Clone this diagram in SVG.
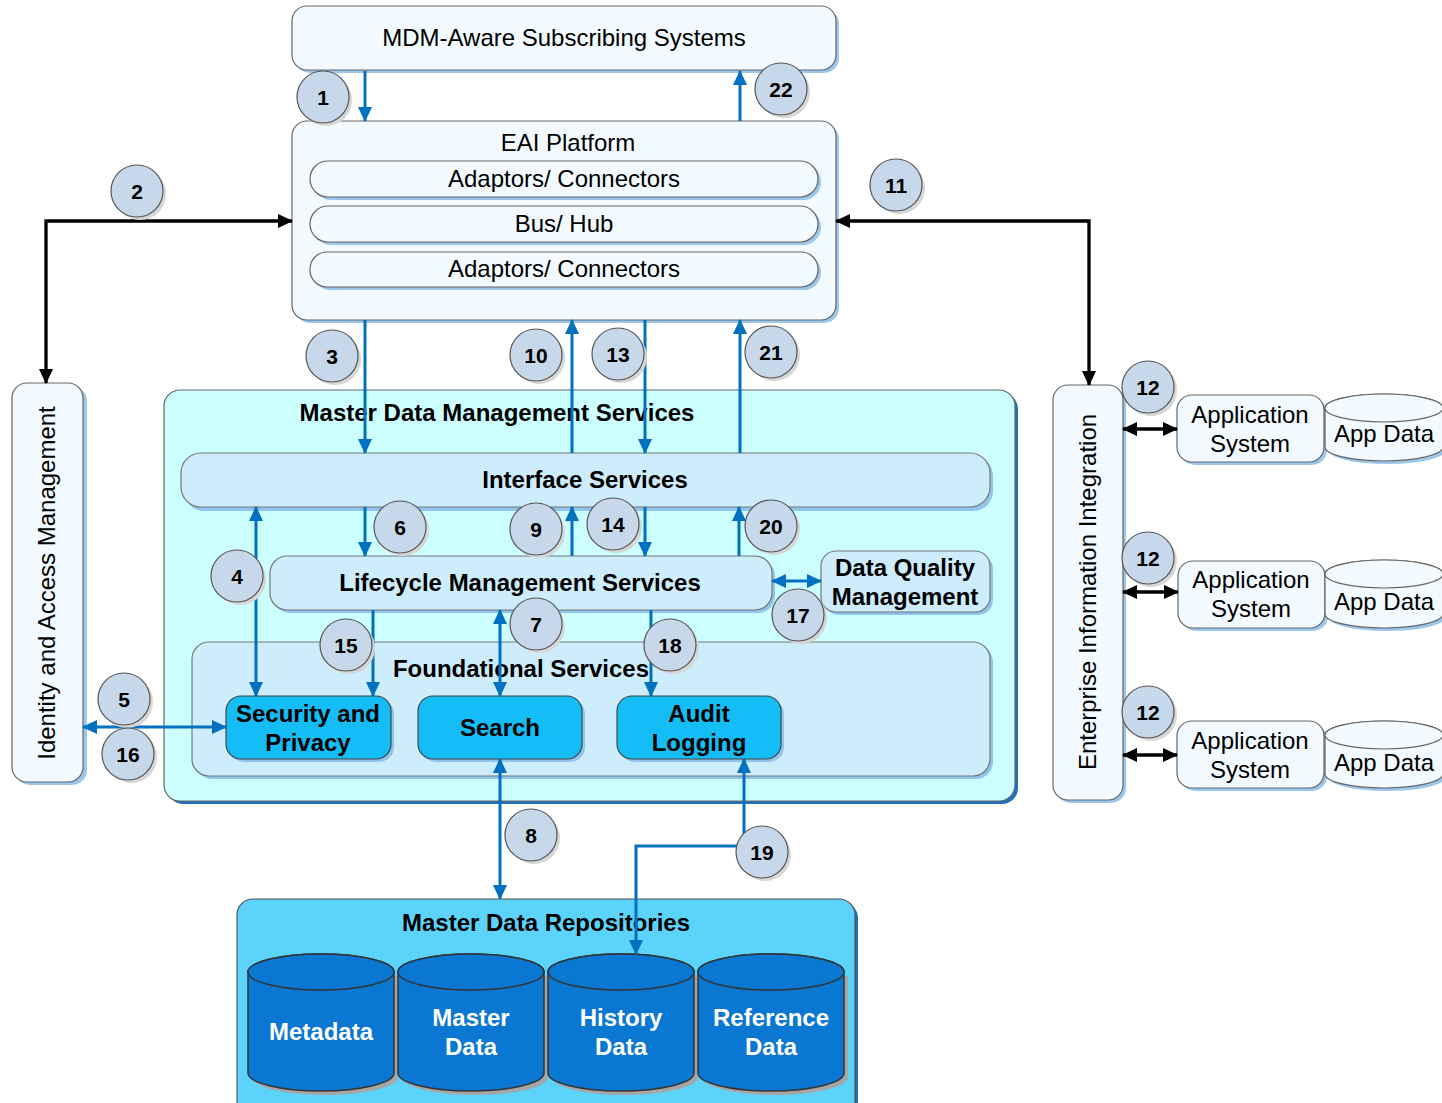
<svg xmlns="http://www.w3.org/2000/svg" width="1442" height="1103" viewBox="0 0 1442 1103">
<defs>
<marker id="ab" viewBox="0 0 15 14" refX="14" refY="7" markerWidth="15" markerHeight="14" markerUnits="userSpaceOnUse" orient="auto-start-reverse"><path d="M0,0 L15,7 L0,14 z" fill="#0070c0"/></marker>
<marker id="ak" viewBox="0 0 15 14" refX="14" refY="7" markerWidth="15" markerHeight="14" markerUnits="userSpaceOnUse" orient="auto-start-reverse"><path d="M0,0 L15,7 L0,14 z" fill="#000"/></marker>
</defs>
<style>
text{font-family:"Liberation Sans",Arial,sans-serif;font-size:24px;text-anchor:middle;dominant-baseline:central;fill:#000}
.b{font-weight:bold}
.w{fill:#fff}
.n{font-size:21px;font-weight:bold}
.light{fill:#f3faff;stroke:#666;stroke-width:1.2}
.lsh{fill:#9cc6ea}
.mdm{fill:#ccffff;stroke:#666;stroke-width:1.2}
.dsh{fill:#1f70b8}
.mid{fill:#cdedfc;stroke:#777;stroke-width:1.2}
.msh{fill:#90c4ea}
.fs{fill:#14bdf6;stroke:#444;stroke-width:1.2}
.repo{fill:#5bd3fb;stroke:#555;stroke-width:1.2}
.cyl{fill:#0a78d2;stroke:#333;stroke-width:1.5}
.csh{fill:#a6a6a6}
.bl{stroke:#0070c0;stroke-width:3;fill:none}
.bk{stroke:#000;stroke-width:3.3;fill:none}
.bdg{fill:#c6d8ea;stroke:#555;stroke-width:1.2}
.bsh{fill:#d6d6d6}
</style>

<g id="mdm-aware">
<rect class="lsh" x="295" y="9" width="544" height="64" rx="15"/>
<rect class="light" x="292" y="6" width="544" height="64" rx="15"/>
<text x="564" y="37">MDM-Aware Subscribing Systems</text>
</g>

<g id="eai-platform">
<rect class="lsh" x="295" y="124" width="544" height="199" rx="15"/>
<rect class="light" x="292" y="121" width="544" height="199" rx="15"/>
<text x="568" y="142">EAI Platform</text>
<rect class="lsh" x="313" y="164" width="508" height="36" rx="18"/>
<rect class="light" x="310" y="161" width="508" height="36" rx="18"/>
<text x="564" y="178">Adaptors/ Connectors</text>
<rect class="lsh" x="313" y="209" width="508" height="36" rx="18"/>
<rect class="light" x="310" y="206" width="508" height="36" rx="18"/>
<text x="564" y="223">Bus/ Hub</text>
<rect class="lsh" x="313" y="255" width="508" height="35" rx="17"/>
<rect class="light" x="310" y="252" width="508" height="35" rx="17"/>
<text x="564" y="268">Adaptors/ Connectors</text>
</g>

<g id="iam">
<rect class="lsh" x="15" y="386" width="72" height="399" rx="15"/>
<rect class="light" x="12" y="383" width="71" height="399" rx="15"/>
<text transform="translate(46,583) rotate(-90)">Identity and Access Management</text>
</g>

<g id="mdm-services">
<rect class="dsh" x="167" y="393" width="851" height="411" rx="16"/>
<rect class="mdm" x="164" y="390" width="851" height="411" rx="16"/>
<text class="b" x="497" y="412">Master Data Management Services</text>
</g>

<g id="interface-services">
<rect class="msh" x="184" y="456" width="809" height="55" rx="20"/>
<rect class="mid" x="181" y="453" width="809" height="54" rx="20"/>
<text class="b" x="585" y="479">Interface Services</text>
</g>

<g id="lifecycle-services">
<rect class="msh" x="273" y="559" width="502" height="54" rx="17"/>
<rect class="mid" x="270" y="556" width="502" height="54" rx="17"/>
<text class="b" x="520" y="582">Lifecycle Management Services</text>
</g>

<g id="data-quality">
<rect class="msh" x="824" y="554" width="169" height="61" rx="15"/>
<rect class="mid" x="821" y="551" width="169" height="61" rx="15"/>
<text class="b" x="905" y="567">Data Quality</text>
<text class="b" x="905" y="596">Management</text>
</g>

<g id="foundational-services">
<rect class="msh" x="195" y="645" width="798" height="134" rx="17"/>
<rect class="mid" x="192" y="642" width="798" height="134" rx="17"/>
<text class="b" x="521" y="668">Foundational Services</text>
</g>

<g id="security-privacy">
<rect class="msh" x="229" y="699" width="165" height="63" rx="15"/>
<rect class="fs" x="226" y="696" width="165" height="63" rx="15"/>
<text class="b" x="308" y="713">Security and</text>
<text class="b" x="308" y="742">Privacy</text>
</g>

<g id="search">
<rect class="msh" x="421" y="699" width="164" height="63" rx="15"/>
<rect class="fs" x="418" y="696" width="164" height="63" rx="15"/>
<text class="b" x="500" y="727">Search</text>
</g>

<g id="audit-logging">
<rect class="msh" x="620" y="699" width="164" height="63" rx="15"/>
<rect class="fs" x="617" y="696" width="164" height="63" rx="15"/>
<text class="b" x="699" y="713">Audit</text>
<text class="b" x="699" y="742">Logging</text>
</g>

<g id="eii">
<rect class="lsh" x="1056" y="388" width="70" height="415" rx="15"/>
<rect class="light" x="1053" y="385" width="70" height="415" rx="15"/>
<text transform="translate(1087,592) rotate(-90)">Enterprise Information Integration</text>
</g>

<g id="app-system-1">
<rect class="lsh" x="1180" y="398" width="147" height="67" rx="15"/>
<rect class="light" x="1177" y="395" width="147" height="67" rx="15"/>
<text x="1250" y="414">Application</text>
<text x="1250" y="443">System</text>
</g>
<g id="app-data-1">
<path class="lsh" d="M1328,411 V450 A59,14 0 0 0 1446,450 V411 z"/>
<path class="light" d="M1325,408 V447 A59,14 0 0 0 1443,447 V408 A59,14 0 0 0 1325,408 z"/>
<ellipse class="light" cx="1384" cy="408" rx="59" ry="14"/>
<text x="1384" y="433">App Data</text>
</g>

<g id="app-system-2">
<rect class="lsh" x="1181" y="564" width="147" height="67" rx="15"/>
<rect class="light" x="1178" y="561" width="147" height="67" rx="15"/>
<text x="1251" y="579">Application</text>
<text x="1251" y="608">System</text>
</g>
<g id="app-data-2">
<path class="lsh" d="M1328,577 V617 A59,14 0 0 0 1446,617 V577 z"/>
<path class="light" d="M1325,574 V614 A59,14 0 0 0 1443,614 V574 A59,14 0 0 0 1325,574 z"/>
<ellipse class="light" cx="1384" cy="574" rx="59" ry="14"/>
<text x="1384" y="601">App Data</text>
</g>

<g id="app-system-3">
<rect class="lsh" x="1180" y="724" width="147" height="67" rx="15"/>
<rect class="light" x="1177" y="721" width="147" height="67" rx="15"/>
<text x="1250" y="740">Application</text>
<text x="1250" y="769">System</text>
</g>
<g id="app-data-3">
<path class="lsh" d="M1328,738 V777 A59,14 0 0 0 1446,777 V738 z"/>
<path class="light" d="M1325,735 V774 A59,14 0 0 0 1443,774 V735 A59,14 0 0 0 1325,735 z"/>
<ellipse class="light" cx="1384" cy="735" rx="59" ry="14"/>
<text x="1384" y="762">App Data</text>
</g>

<g id="repositories">
<rect class="dsh" x="240" y="902" width="618" height="220" rx="16"/>
<rect class="repo" x="237" y="899" width="618" height="220" rx="16"/>
<text class="b" x="546" y="922">Master Data Repositories</text>
</g>

<g id="metadata">
<path class="csh" d="M252,976 V1077 A73,18 0 0 0 398,1077 V976 z"/>
<path class="cyl" d="M248,972 V1073 A73,18 0 0 0 394,1073 V972 A73,18 0 0 0 248,972 z"/>
<ellipse class="cyl" cx="321" cy="972" rx="73" ry="18"/>
<text class="b w" x="321" y="1031">Metadata</text>
</g>
<g id="master-data">
<path class="csh" d="M402,976 V1077 A73,18 0 0 0 548,1077 V976 z"/>
<path class="cyl" d="M398,972 V1073 A73,18 0 0 0 544,1073 V972 A73,18 0 0 0 398,972 z"/>
<ellipse class="cyl" cx="471" cy="972" rx="73" ry="18"/>
<text class="b w" x="471" y="1017">Master</text>
<text class="b w" x="471" y="1046">Data</text>
</g>
<g id="history-data">
<path class="csh" d="M552,976 V1077 A73,18 0 0 0 698,1077 V976 z"/>
<path class="cyl" d="M548,972 V1073 A73,18 0 0 0 694,1073 V972 A73,18 0 0 0 548,972 z"/>
<ellipse class="cyl" cx="621" cy="972" rx="73" ry="18"/>
<text class="b w" x="621" y="1017">History</text>
<text class="b w" x="621" y="1046">Data</text>
</g>
<g id="reference-data">
<path class="csh" d="M702,976 V1077 A73,18 0 0 0 848,1077 V976 z"/>
<path class="cyl" d="M698,972 V1073 A73,18 0 0 0 844,1073 V972 A73,18 0 0 0 698,972 z"/>
<ellipse class="cyl" cx="771" cy="972" rx="73" ry="18"/>
<text class="b w" x="771" y="1017">Reference</text>
<text class="b w" x="771" y="1046">Data</text>
</g>

<g id="connectors">
<g marker-end="url(#ab)" class="bl">
<line x1="365" y1="71" x2="365" y2="121"/>
<line x1="740" y1="121" x2="740" y2="71"/>
<line x1="365" y1="320" x2="365" y2="453"/>
<line x1="572" y1="453" x2="572" y2="320"/>
<line x1="645" y1="320" x2="645" y2="453"/>
<line x1="740" y1="453" x2="740" y2="320"/>
<line x1="365" y1="507" x2="365" y2="556"/>
<line x1="572" y1="556" x2="572" y2="507"/>
<line x1="645" y1="507" x2="645" y2="556"/>
<line x1="739" y1="556" x2="739" y2="507"/>
<line x1="373" y1="610" x2="373" y2="696"/>
<line x1="651" y1="610" x2="651" y2="696"/>
</g>
<g marker-start="url(#ab)" marker-end="url(#ab)" class="bl">
<line x1="256" y1="507" x2="256" y2="696"/>
<line x1="500" y1="610" x2="500" y2="696"/>
<line x1="772" y1="581" x2="821" y2="581"/>
<line x1="83" y1="727" x2="226" y2="727"/>
<line x1="500" y1="759" x2="500" y2="899"/>
<polyline points="744,759 744,846 636,846 636,954"/>
</g>
<g marker-start="url(#ak)" marker-end="url(#ak)" class="bk">
<polyline points="46,383 46,221 292,221"/>
<polyline points="836,221 1089,221 1089,385"/>
<line x1="1123" y1="429" x2="1177" y2="429"/>
<line x1="1123" y1="592" x2="1178" y2="592"/>
<line x1="1123" y1="755" x2="1177" y2="755"/>
</g>
</g>

<g id="badges">
<g id="b1"><circle class="bsh" cx="326" cy="100" r="26"/><circle class="bdg" cx="323" cy="97" r="26"/><text class="n" x="323" y="97">1</text></g>
<g id="b22"><circle class="bsh" cx="784" cy="92" r="26"/><circle class="bdg" cx="781" cy="89" r="26"/><text class="n" x="781" y="89">22</text></g>
<g id="b2"><circle class="bsh" cx="140" cy="194" r="26"/><circle class="bdg" cx="137" cy="191" r="26"/><text class="n" x="137" y="191">2</text></g>
<g id="b11"><circle class="bsh" cx="899" cy="188" r="26"/><circle class="bdg" cx="896" cy="185" r="26"/><text class="n" x="896" y="185">11</text></g>
<g id="b3"><circle class="bsh" cx="335" cy="359" r="26"/><circle class="bdg" cx="332" cy="356" r="26"/><text class="n" x="332" y="356">3</text></g>
<g id="b10"><circle class="bsh" cx="539" cy="358" r="26"/><circle class="bdg" cx="536" cy="355" r="26"/><text class="n" x="536" y="355">10</text></g>
<g id="b13"><circle class="bsh" cx="621" cy="357" r="26"/><circle class="bdg" cx="618" cy="354" r="26"/><text class="n" x="618" y="354">13</text></g>
<g id="b21"><circle class="bsh" cx="774" cy="355" r="26"/><circle class="bdg" cx="771" cy="352" r="26"/><text class="n" x="771" y="352">21</text></g>
<g id="b12a"><circle class="bsh" cx="1151" cy="390" r="26"/><circle class="bdg" cx="1148" cy="387" r="26"/><text class="n" x="1148" y="387">12</text></g>
<g id="b12b"><circle class="bsh" cx="1151" cy="561" r="26"/><circle class="bdg" cx="1148" cy="558" r="26"/><text class="n" x="1148" y="558">12</text></g>
<g id="b12c"><circle class="bsh" cx="1151" cy="715" r="26"/><circle class="bdg" cx="1148" cy="712" r="26"/><text class="n" x="1148" y="712">12</text></g>
<g id="b6"><circle class="bsh" cx="403" cy="530" r="26"/><circle class="bdg" cx="400" cy="527" r="26"/><text class="n" x="400" y="527">6</text></g>
<g id="b9"><circle class="bsh" cx="539" cy="532" r="26"/><circle class="bdg" cx="536" cy="529" r="26"/><text class="n" x="536" y="529">9</text></g>
<g id="b14"><circle class="bsh" cx="616" cy="527" r="26"/><circle class="bdg" cx="613" cy="524" r="26"/><text class="n" x="613" y="524">14</text></g>
<g id="b20"><circle class="bsh" cx="774" cy="529" r="26"/><circle class="bdg" cx="771" cy="526" r="26"/><text class="n" x="771" y="526">20</text></g>
<g id="b4"><circle class="bsh" cx="240" cy="579" r="26"/><circle class="bdg" cx="237" cy="576" r="26"/><text class="n" x="237" y="576">4</text></g>
<g id="b7"><circle class="bsh" cx="539" cy="627" r="26"/><circle class="bdg" cx="536" cy="624" r="26"/><text class="n" x="536" y="624">7</text></g>
<g id="b17"><circle class="bsh" cx="801" cy="618" r="26"/><circle class="bdg" cx="798" cy="615" r="26"/><text class="n" x="798" y="615">17</text></g>
<g id="b15"><circle class="bsh" cx="349" cy="648" r="26"/><circle class="bdg" cx="346" cy="645" r="26"/><text class="n" x="346" y="645">15</text></g>
<g id="b18"><circle class="bsh" cx="673" cy="648" r="26"/><circle class="bdg" cx="670" cy="645" r="26"/><text class="n" x="670" y="645">18</text></g>
<g id="b5"><circle class="bsh" cx="127" cy="702" r="26"/><circle class="bdg" cx="124" cy="699" r="26"/><text class="n" x="124" y="699">5</text></g>
<g id="b16"><circle class="bsh" cx="131" cy="757" r="26"/><circle class="bdg" cx="128" cy="754" r="26"/><text class="n" x="128" y="754">16</text></g>
<g id="b8"><circle class="bsh" cx="534" cy="838" r="26"/><circle class="bdg" cx="531" cy="835" r="26"/><text class="n" x="531" y="835">8</text></g>
<g id="b19"><circle class="bsh" cx="765" cy="855" r="26"/><circle class="bdg" cx="762" cy="852" r="26"/><text class="n" x="762" y="852">19</text></g>
</g>
</svg>
